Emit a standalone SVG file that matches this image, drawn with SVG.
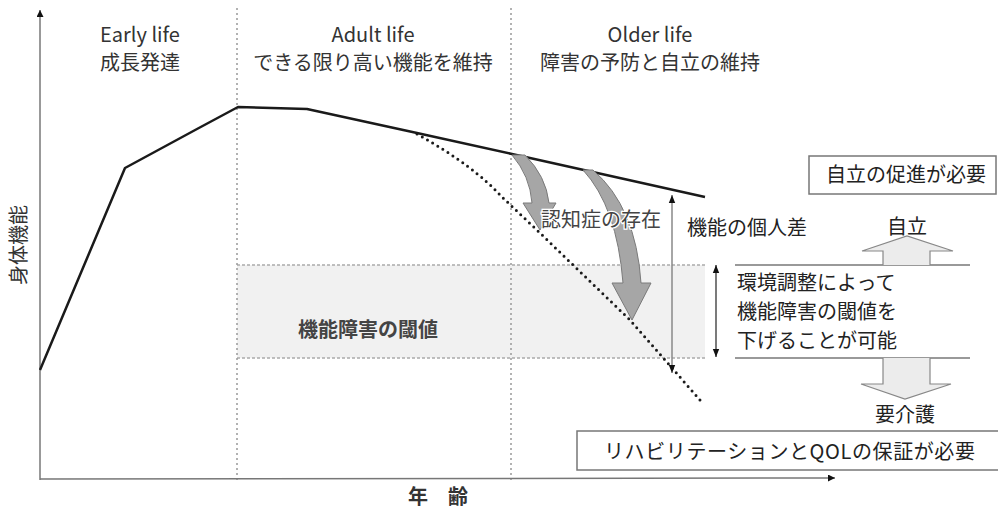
<svg xmlns="http://www.w3.org/2000/svg" width="998" height="511" viewBox="0 0 998 511">
<defs>
<style>
text{font-family:"Noto Sans CJK JP","Noto Sans",sans-serif;fill:#222;font-size:20px}
.hdr{fill:#333}
.mid{text-anchor:middle}
.vdot{stroke:#999;stroke-width:1.5;stroke-dasharray:2,3;fill:none}
.axis{stroke:#777;stroke-width:1.5;fill:none}
.band{stroke:#aaa;stroke-width:1.3;stroke-dasharray:3,2;fill:none}
.box{fill:#fff;stroke:#777;stroke-width:1.5}
.curved{fill:#a6a6a6;stroke:#7a7a7a;stroke-width:1}
.hollow{fill:#ececec;stroke:#888;stroke-width:1.2}
</style>
<marker id="ah" viewBox="0 0 10 10" refX="10" refY="5" markerWidth="7" markerHeight="7" orient="auto-start-reverse" markerUnits="userSpaceOnUse">
<path d="M0,0 L10,5 L0,10 z" fill="#111"/>
</marker>
<marker id="ahs" viewBox="0 0 10 10" refX="10" refY="5" markerWidth="8" markerHeight="8" orient="auto-start-reverse" markerUnits="userSpaceOnUse">
<path d="M0,1 L10,5 L0,9 z" fill="#111"/>
</marker>
</defs>
<rect width="998" height="511" fill="#fff"/>

<g id="band">
<rect x="237" y="265" width="468" height="93" fill="#f1f1f1"/>
<line class="band" x1="237" y1="265" x2="705" y2="265"/>
<line class="band" x1="237" y1="358" x2="707" y2="358"/>
<text x="298" y="337" style="font-weight:bold;fill:#444">機能障害の閾値</text>
</g>

<g id="dividers">
<line class="vdot" x1="237" y1="8" x2="237" y2="480"/>
<line class="vdot" x1="511" y1="8" x2="511" y2="480"/>
</g>

<g id="axes">
<line class="axis" x1="40" y1="480" x2="40" y2="10" marker-end="url(#ah)"/>
<line class="axis" x1="40" y1="479" x2="835" y2="478" marker-end="url(#ah)"/>
<text x="19" y="245" class="mid" transform="rotate(-90 19 245)" dy="7" style="fill:#333">身体機能</text>
<text x="408" y="504" style="font-weight:bold;fill:#333">年　齢</text>
</g>

<g id="headers">
<text x="140" y="42" class="mid hdr">Early life</text>
<text x="140" y="70" class="mid hdr">成長発達</text>
<text x="373" y="42" class="mid hdr">Adult life</text>
<text x="373" y="70" class="mid hdr">できる限り高い機能を維持</text>
<text x="650" y="42" class="mid hdr">Older life</text>
<text x="650" y="70" class="mid hdr">障害の予防と自立の維持</text>
</g>

<g id="curves">
<polyline points="40,370 125,168 197,129 238,107 307,109 417,133 512,154 705,197" fill="none" stroke="#1a1a1a" stroke-width="2.5" stroke-linejoin="round"/>
<path d="M417,134 C455,155 485,178 500,195 L540,233 L630,320 L700,400" fill="none" stroke="#1a1a1a" stroke-width="3" stroke-linecap="round" stroke-dasharray="0,6"/>
</g>

<g id="dementia-arrows">
<path class="curved" d="M512,155 L525,155 Q546,176 549,203 L556,203 L540,230 L523,203 L532,203 Q530,176 512,155 z"/>
<path class="curved" d="M583,170 L593,170 Q636,207 641,283 L651,283 L632,320 L612,283 L623,283 Q617,207 583,170 z"/>
<text x="541" y="227" style="fill:#444;stroke:#fff;stroke-width:2.5;paint-order:stroke">認知症の存在</text>
</g>

<g id="individual-diff">
<line x1="672" y1="373" x2="672" y2="195" stroke="#888" stroke-width="1.5" marker-start="url(#ahs)" marker-end="url(#ahs)"/>
<text x="687" y="235">機能の個人差</text>
</g>

<g id="env-adjust">
<line x1="716" y1="357" x2="716" y2="265" stroke="#222" stroke-width="1.2" marker-start="url(#ahs)" marker-end="url(#ahs)"/>
<line x1="735" y1="265" x2="970" y2="265" stroke="#777" stroke-width="1.5"/>
<line x1="735" y1="358" x2="970" y2="358" stroke="#777" stroke-width="1.5"/>
<text x="737" y="290">環境調整によって</text>
<text x="737" y="319">機能障害の閾値を</text>
<text x="737" y="348">下げることが可能</text>
</g>

<g id="independence">
<path class="hollow" d="M883,265 L883,251 L862,251 L907,236 L953,251 L930,251 L930,265"/>
<text x="907" y="234" class="mid">自立</text>
</g>

<g id="care-needed">
<path class="hollow" d="M883,358 L883,384 L861,384 L905,399 L951,384 L930,384 L930,358"/>
<text x="905" y="422" class="mid">要介護</text>
</g>

<g id="box-independence">
<rect class="box" x="809" y="156" width="187" height="38"/>
<text x="906" y="182" class="mid">自立の促進が必要</text>
</g>

<g id="box-rehab">
<rect class="box" x="577" y="431" width="425" height="39"/>
<text x="604" y="459" style="letter-spacing:0.6px">リハビリテーションとQOLの保証が必要</text>
</g>
</svg>
